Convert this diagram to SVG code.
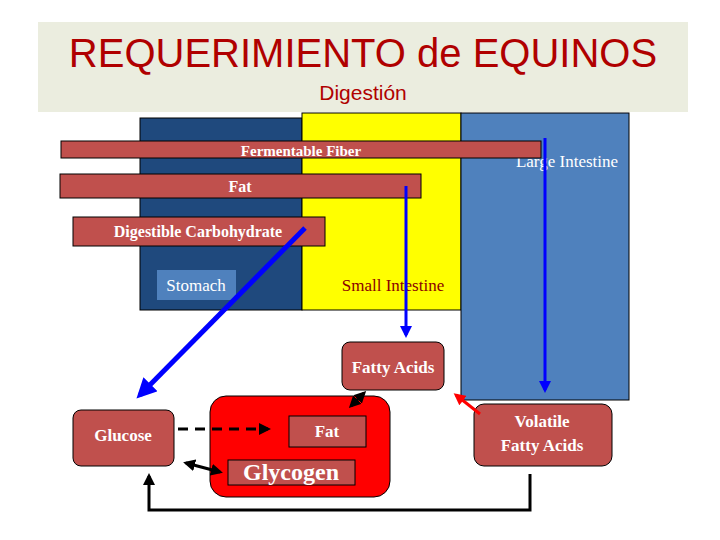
<svg xmlns="http://www.w3.org/2000/svg" width="720" height="540" viewBox="0 0 720 540">
<style>
.bar{fill:#c0504d;stroke:#000;stroke-width:1}
.t{font-family:"Liberation Serif",serif;fill:#fff;text-anchor:middle}
.b{font-weight:bold}
.blue{stroke:#0000ff;fill:none}
.blk{stroke:#000;stroke-width:3;fill:none}
</style>
<defs>
<marker id="ab" markerWidth="4" markerHeight="4" refX="3" refY="2" orient="auto"><path d="M0,0L4,2L0,4z" fill="#0000ff"/></marker>
<marker id="ak" markerWidth="4" markerHeight="4" refX="3" refY="2" orient="auto-start-reverse"><path d="M0,0L4,2L0,4z" fill="#000"/></marker>
<marker id="ar" markerWidth="4" markerHeight="4" refX="3" refY="2" orient="auto"><path d="M0,0L4,2L0,4z" fill="#ff0000"/></marker>
</defs>
<rect width="720" height="540" fill="#fff"/>
<g id="header">
<rect x="38" y="22" width="650" height="90" fill="#ebeddf"/>
<text x="363" y="67" font-family="Liberation Sans,sans-serif" font-size="40" fill="#b00000" text-anchor="middle">REQUERIMIENTO de EQUINOS</text>
<text x="363" y="100" font-family="Liberation Sans,sans-serif" font-size="21" fill="#b00000" text-anchor="middle">Digestión</text>
</g>
<g id="stomach"><rect x="140" y="118" width="162" height="192" fill="#1f497d" stroke="#000"/>
<rect x="157" y="270" width="79" height="30" fill="#4f81bd"/><text class="t" x="196" y="291" font-size="17">Stomach</text></g>
<g id="small-intestine"><rect x="302" y="113" width="159" height="197" fill="#ffff00" stroke="#000"/>
<text x="393" y="291" font-family="Liberation Serif,serif" font-size="17" fill="#8b0000" text-anchor="middle">Small Intestine</text></g>
<g id="large-intestine"><rect x="461" y="113" width="168" height="287" fill="#4f81bd" stroke="#000"/>
<text class="t" x="567" y="167" font-size="17">Large Intestine</text></g>
<g id="fiber"><rect class="bar" x="61" y="141" width="480" height="17"/><text class="t b" x="301" y="156" font-size="15">Fermentable Fiber</text></g>
<g id="fat-bar"><rect class="bar" x="60" y="174" width="361" height="24"/><text class="t b" x="240" y="192" font-size="16">Fat</text></g>
<g id="carb"><rect class="bar" x="73" y="217" width="252" height="29"/><text class="t b" x="198" y="237" font-size="16">Digestible Carbohydrate</text></g>
<g id="fatty-acids"><rect class="bar" x="342" y="342" width="102" height="48" rx="8"/><text class="t b" x="393" y="373" font-size="17">Fatty Acids</text></g>
<g id="liver"><rect x="210" y="396" width="180" height="101" rx="16" fill="#ff0000" stroke="#000"/></g>
<g id="fat-inner"><rect class="bar" x="289" y="416" width="77" height="31"/><text class="t b" x="327" y="437" font-size="17">Fat</text></g>
<g id="glycogen"><rect class="bar" x="228" y="460" width="127" height="25"/><text class="t b" x="291" y="480" font-size="24">Glycogen</text></g>
<g id="glucose"><rect class="bar" x="73" y="410" width="101" height="56" rx="8"/><text class="t b" x="123" y="441" font-size="17">Glucose</text></g>
<g id="vfa"><rect class="bar" x="474" y="404" width="138" height="62" rx="10"/><text class="t b" x="542" y="427" font-size="17">Volatile</text><text class="t b" x="542" y="451" font-size="17">Fatty Acids</text></g>
<g id="connectors">
<line class="blue" x1="406" y1="186" x2="406" y2="335" stroke-width="3" marker-end="url(#ab)"/>
<line class="blue" x1="545" y1="138" x2="545" y2="390" stroke-width="3" marker-end="url(#ab)"/>
<line class="blue" x1="305" y1="228" x2="140" y2="395" stroke-width="5" marker-end="url(#ab)"/>
<line class="blk" x1="178" y1="429" x2="268" y2="429" stroke-dasharray="10,7" marker-end="url(#ak)"/>
<line class="blk" x1="186" y1="463" x2="220" y2="472" marker-start="url(#ak)" marker-end="url(#ak)"/>
<line class="blk" x1="351" y1="406" x2="364" y2="393" marker-start="url(#ak)" marker-end="url(#ak)"/>
<line x1="480" y1="414" x2="456" y2="395" stroke="#ff0000" stroke-width="3" marker-end="url(#ar)"/>
<path class="blk" d="M530,474V510H149V476" marker-end="url(#ak)"/>
</g>
</svg>
